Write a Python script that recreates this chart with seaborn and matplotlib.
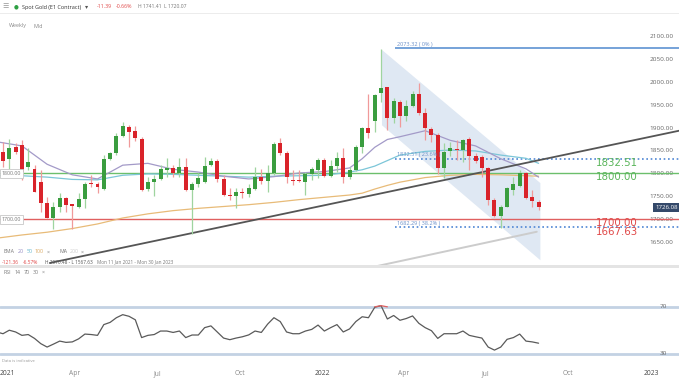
import numpy as np
import pandas as pd
import matplotlib
matplotlib.use("Agg")
import matplotlib.pyplot as plt
import matplotlib.dates as mdates
import seaborn as sns

# weekly candles, Spot Gold, Jan 2021 - Aug 2022
weeks = pd.date_range("2021-01-04", periods=87, freq="7D")
opens = [1880, 1847, 1831, 1857, 1862, 1813, 1810, 1782, 1735, 1702, 1728, 1746, 1733, 1728, 1744,
         1779, 1776, 1766, 1831, 1844, 1881, 1902, 1893, 1876, 1766, 1781, 1787, 1808, 1812, 1802,
         1815, 1764, 1778, 1782, 1818, 1828, 1787, 1754, 1750, 1760, 1755, 1766, 1792, 1783, 1800,
         1866, 1844, 1786, 1786, 1782, 1799, 1807, 1829, 1794, 1816, 1833, 1792, 1807, 1858, 1900,
         1915, 1976, 1989, 1920, 1956, 1925, 1947, 1973, 1931, 1896, 1884, 1811, 1849, 1854, 1850,
         1874, 1837, 1835, 1811, 1742, 1707, 1728, 1764, 1773, 1802, 1748, 1737.5]
highs = [1909, 1869, 1874, 1866, 1873, 1855, 1818, 1808, 1749, 1738, 1757, 1749, 1734, 1757, 1782,
         1797, 1782, 1840, 1847, 1889, 1913, 1906, 1903, 1880, 1793, 1797, 1818, 1833, 1818, 1833,
         1833, 1782, 1802, 1836, 1833, 1831, 1797, 1768, 1768, 1768, 1778, 1815, 1809, 1818, 1869,
         1877, 1848, 1807, 1807, 1804, 1815, 1833, 1833, 1829, 1847, 1855, 1815, 1862, 1902, 1974,
         1974, 2070, 1989, 1964, 1960, 1960, 1980, 1998, 1942, 1902, 1887, 1866, 1869, 1873, 1876,
         1880, 1844, 1840, 1815, 1746, 1731, 1770, 1793, 1807, 1804, 1764, 1741.4]
lows = [1840, 1815, 1809, 1843, 1786, 1807, 1760, 1717, 1702, 1678, 1717, 1717, 1678, 1724, 1724,
        1771, 1757, 1764, 1829, 1840, 1880, 1858, 1870, 1762, 1761, 1751, 1786, 1792, 1792, 1792,
        1762, 1668, 1771, 1780, 1816, 1782, 1751, 1742, 1724, 1746, 1749, 1764, 1777, 1760, 1797,
        1840, 1780, 1775, 1782, 1753, 1786, 1789, 1793, 1792, 1804, 1780, 1787, 1806, 1844, 1877,
        1890, 1956, 1895, 1909, 1902, 1915, 1945, 1927, 1873, 1869, 1799, 1789, 1837, 1829, 1826,
        1807, 1823, 1793, 1731, 1706, 1681, 1726, 1753, 1771, 1744, 1728, 1720.1]
closes = [1847, 1828, 1855, 1847, 1804, 1824, 1760, 1735, 1702, 1728, 1746, 1731, 1729, 1744, 1776,
          1777, 1770, 1831, 1844, 1881, 1903, 1891, 1878, 1764, 1782, 1787, 1809, 1812, 1802, 1815,
          1764, 1778, 1791, 1816, 1828, 1787, 1754, 1751, 1760, 1757, 1768, 1793, 1784, 1800, 1864,
          1844, 1793, 1783, 1783, 1799, 1809, 1829, 1794, 1816, 1834, 1792, 1807, 1858, 1898, 1889,
          1970, 1987, 1920, 1958, 1925, 1947, 1973, 1931, 1898, 1884, 1811, 1847, 1855, 1850, 1873,
          1838, 1827, 1811, 1742, 1707, 1728, 1768, 1776, 1802, 1746, 1739, 1726.08]

ema_idx = [0, 4, 8, 12, 16, 20, 24, 28, 32, 36, 40, 44, 48, 52, 56, 58, 60, 62, 64, 68, 72, 76, 80, 84, 86]
ema20 = [1869, 1860, 1820, 1797, 1788, 1818, 1822, 1809, 1803, 1794, 1788, 1793, 1801, 1804, 1812,
         1832, 1857, 1874, 1880, 1893, 1872, 1860, 1832, 1810, 1792]
ema50 = [1796, 1795, 1792, 1787, 1786, 1796, 1799, 1798, 1796, 1794, 1792, 1794, 1795, 1796, 1803,
         1808, 1816, 1828, 1840, 1848, 1851, 1849, 1840, 1833, 1822]
ema100 = [1659, 1666, 1672, 1680, 1690, 1703, 1712, 1719, 1724, 1728, 1732, 1737, 1743, 1748, 1753,
          1757, 1766, 1774, 1781, 1791, 1796, 1798, 1797, 1795, 1794]

rsi = [48.5, 47.0, 50.0, 48.5, 45.6, 46.3, 43.0, 38.5, 35.6, 38.1, 40.7, 39.6, 40.0, 42.6, 46.7,
       46.3, 45.6, 54.8, 56.7, 60.7, 63.3, 61.9, 58.9, 43.7, 45.6, 46.3, 49.3, 49.3, 48.1, 49.3,
       43.7, 45.9, 45.9, 52.2, 53.7, 48.5, 43.3, 41.9, 43.3, 44.4, 46.0, 49.3, 48.1, 55.2, 60.7,
       57.4, 48.5, 47.0, 47.0, 49.3, 50.7, 54.4, 49.3, 52.2, 54.8, 48.5, 51.1, 57.4, 61.5, 60.7,
       69.6, 71.0, 59.6, 62.6, 58.5, 60.0, 62.2, 55.9, 52.2, 49.6, 43.0, 47.0, 47.0, 47.0, 49.3,
       45.6, 44.4, 43.3, 35.6, 33.0, 35.6, 42.2, 43.7, 46.7, 40.7, 40.0, 38.9]
rsi_bands = [70, 30]

# levels and drawings
fib_levels = [2073.32, 1832.51, 1682.29]
fib_labels = ["2073.32 ( 0% )", "1832.51 ( 23.6% )", "1682.29 ( 38.2% )"]
level_texts = ["1832.51", "1800.00", "1700.00", "1667.63"]
level_text_y = [1822, 1793, 1692, 1672]
level_colors = ["#5bb55b", "#5bb55b", "#e04848", "#e04848"]
channel_dates = ["2022-03-08", "2022-08-31", "2022-08-31", "2022-03-08"]
channel_prices = [2069, 1779, 1611, 1905]
trend_dates = ["2021-03-04", "2023-02-01"]
trend_prices = [1605, 1893]
lower_dates = ["2022-02-11", "2022-08-27"]
lower_prices = [1590, 1673]

W, H = 679, 380
sns.set_style("white")
plt.rcParams["font.family"] = ["Open Sans", "DejaVu Sans"]

fig = plt.figure(figsize=(W / 100, H / 100), dpi=100)
ax = fig.add_axes([0, 1 - 265 / H, 1, (265 - 16) / H])
ax_rsi = fig.add_axes([0, 1 - 366 / H, 1, (366 - 268) / H], sharex=ax)

x0 = pd.Timestamp("2021-01-07 16:00")
x1 = pd.Timestamp("2023-02-01")
ax.set_xlim(x0, x1)
ax.set_ylim(1600.6, 2142.9)
ax_rsi.set_ylim(19.4, 103.2)

GREEN, RED = "#3a9d3f", "#d9232a"
GREEN_W, RED_W = "#9fd49f", "#f09a9a"

# channel and trend lines
ax.fill(pd.to_datetime(channel_dates), channel_prices, color="#dfe8f3", lw=0, zorder=1)
ax.plot(pd.to_datetime(trend_dates), trend_prices, color="#555555", lw=1.3, zorder=4)
ax.plot(pd.to_datetime(lower_dates), lower_prices, color="#cccccc", lw=1.4, zorder=2)

# horizontal levels
ax.axhline(1800, color="#6cbf6c", lw=1.0, zorder=2)
ax.axhline(1700, color="#e06060", lw=1.0, zorder=2)
fib_start = pd.Timestamp("2022-03-23")
ax.hlines(fib_levels[0], fib_start, x1, color="#6a9bd6", lw=1.3, zorder=2)
ax.hlines(fib_levels[1:], fib_start, x1, color="#4f86d4", lw=1.2, linestyles=(0, (1, 1.6)), zorder=2)
for lv, lb in zip(fib_levels, fib_labels):
    ax.text(pd.Timestamp("2022-03-25"), lv + 3, lb, fontsize=4.0, color="#6a8fc8", va="bottom", zorder=6)

# EMAs
ema_dates = weeks[ema_idx]
sns.lineplot(x=ema_dates, y=ema100, ax=ax, color="#e8bb78", lw=0.9, zorder=3)
sns.lineplot(x=ema_dates, y=ema50, ax=ax, color="#7cc6d8", lw=0.9, zorder=3)
sns.lineplot(x=ema_dates, y=ema20, ax=ax, color="#a39ac8", lw=0.9, zorder=3)

# candles
o, h, l, c = map(np.array, (opens, highs, lows, closes))
up = c >= o
xs = mdates.date2num(weeks)
ax.vlines(xs, l, h, colors=np.where(up, GREEN_W, RED_W), lw=0.9, zorder=4)
body = np.maximum(np.abs(c - o), 1.5)
ax.bar(xs, body, bottom=np.minimum(o, c), width=4.4, color=np.where(up, GREEN, RED), lw=0, zorder=5)

# big level labels
big_x = pd.Timestamp("2022-11-01")
for txt, ty, col in zip(level_texts, level_text_y, level_colors):
    ax.text(big_x, ty, txt, color=col, fontsize=7.4, va="center", family="DejaVu Sans", zorder=6)

# left boxed labels
for lv in (1800, 1700):
    ax.text(0.003, lv, f"{lv:.2f}", transform=ax.get_yaxis_transform(), fontsize=3.8, color="#777777",
            va="center", ha="left", zorder=7,
            bbox=dict(boxstyle="square,pad=0.35", fc="white", ec="#c8c8c8", lw=0.6))

# price axis (inside, right)
ax.yaxis.tick_right()
ax.set_yticks(np.arange(1650, 2101, 50))
ax.set_yticklabels([f"{v:.2f}" for v in np.arange(1650, 2101, 50)])
ax.tick_params(axis="y", length=0, pad=-4, labelsize=4.6, labelcolor="#666666")
for lab in ax.get_yticklabels():
    lab.set_horizontalalignment("right")
ax.text(0.998, 1726.08, "1726.08", transform=ax.get_yaxis_transform(), ha="right", va="center",
        fontsize=4.4, color="white", zorder=8,
        bbox=dict(boxstyle="square,pad=0.35", fc="#34496a", ec="none"))
ax.tick_params(axis="x", bottom=False, labelbottom=False)
ax.set_xlabel("")
ax.set_ylabel("")

# RSI pane
for band in rsi_bands:
    ax_rsi.axhline(band, color="#c3d2e3", lw=2.0, zorder=1)
    ax_rsi.text(0.982, band, str(band), transform=ax_rsi.get_yaxis_transform(), ha="right", va="center",
                fontsize=4.6, color="#666666", zorder=6)
sns.lineplot(x=weeks, y=rsi, ax=ax_rsi, color="#5a5a5a", lw=0.9, zorder=3)
peak = np.maximum(np.array(rsi[60:63]), 70)
sns.lineplot(x=weeks[60:63], y=peak, ax=ax_rsi, color="#e06060", lw=0.9, zorder=4)
ax_rsi.set_yticks([])
ax_rsi.set_ylabel("")
ax_rsi.set_xlabel("")

tick_dates = [x0] + list(pd.to_datetime(["2021-04-01", "2021-07-01", "2021-10-01", "2022-01-01",
                                         "2022-04-01", "2022-07-01", "2022-10-01", "2023-01-01"]))
tick_labels = ["2021", "Apr", "Jul", "Oct", "2022", "Apr", "Jul", "Oct", "2023"]
ax_rsi.set_xticks(tick_dates)
ax_rsi.set_xticklabels(tick_labels)
ax_rsi.tick_params(axis="x", length=0, pad=3, labelsize=4.8, labelcolor="#8a8a8a")
for lab in ax_rsi.get_xticklabels():
    if lab.get_text() in ("2021", "2022", "2023"):
        lab.set_color("#444444")
ax_rsi.get_xticklabels()[0].set_horizontalalignment("left")

for a in (ax, ax_rsi):
    sns.despine(ax=a, left=True, bottom=True, right=True, top=True)
    a.grid(False)

# pane separators
fig.add_artist(plt.Rectangle((0, 1 - 268 / H), 1, 3 / H, transform=fig.transFigure, color="#e4e4e4", lw=0))
fig.add_artist(plt.Rectangle((0, 1 - 14 / H), 1, 1.2 / H, transform=fig.transFigure, color="#ececec", lw=0))


def ftext(px, py, s, **kw):
    kw.setdefault("fontsize", 4)
    kw.setdefault("va", "center")
    fig.text(px / W, 1 - py / H, s, **kw)


# header
ftext(2, 7, "☰", color="#999999", fontsize=5)
ftext(14, 7, "●", color="#2ea043", fontsize=4)
ftext(22, 7, "Spot Gold (E1 Contract)", color="#333333", fontsize=4.0)
ftext(85, 7, "▾", color="#555555", fontsize=4.5)
ftext(97, 7, "-11.39", color="#e04848", fontsize=3.8)
ftext(116, 7, "-0.66%", color="#e04848", fontsize=3.8)
ftext(138, 7, "H 1741.41  L 1720.07", color="#777777", fontsize=3.6)
ftext(9, 26, "Weekly", color="#888888", fontsize=3.9)
ftext(34, 26, "Mid", color="#888888", fontsize=3.9)

# indicator legends
ftext(4, 252, "EMA", color="#777777", fontsize=3.8)
ftext(18, 252, "20", color="#8f86c0", fontsize=3.8)
ftext(27, 252, "50", color="#5fb4cc", fontsize=3.8)
ftext(35, 252, "100", color="#d9a860", fontsize=3.8)
ftext(47, 252, "×", color="#888888", fontsize=3.8)
ftext(59, 252, "MA", color="#777777", fontsize=3.8)
ftext(70, 252, "200", color="#cccccc", fontsize=3.8)
ftext(81, 252, "×", color="#888888", fontsize=3.8)
ftext(2, 262, "-121.36", color="#e04848", fontsize=3.5)
ftext(23, 262, "-6.57%", color="#e04848", fontsize=3.5)
ftext(45, 262, "H 2070.48 - L 1567.63", color="#555555", fontsize=3.4)
ftext(97, 262, "Mon 11 Jan 2021 - Mon 30 Jan 2023", color="#777777", fontsize=3.3)
ftext(4, 272, "RSI", color="#777777", fontsize=3.8)
ftext(15, 272, "14", color="#777777", fontsize=3.8)
ftext(24, 272, "70", color="#777777", fontsize=3.8)
ftext(33, 272, "30", color="#777777", fontsize=3.8)
ftext(42, 272, "×", color="#888888", fontsize=3.8)
ftext(2, 361, "Data is indicative", color="#999999", fontsize=3.0)

fig.savefig("out.png", dpi=100)
